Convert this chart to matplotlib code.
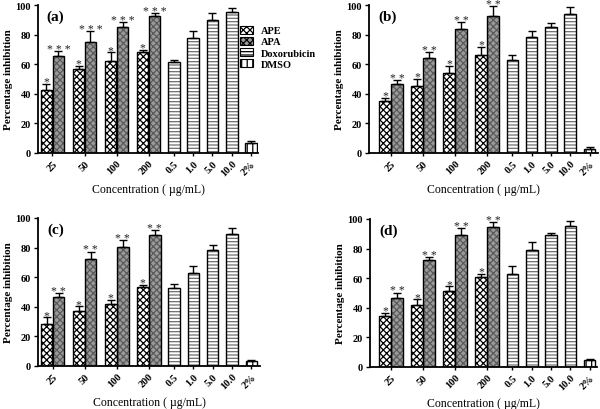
import numpy as np
import matplotlib
matplotlib.use("Agg")
import matplotlib.pyplot as plt

# Category labels along the x axis
group_labels = ['25', '50', '100', '200']
dox_labels = ['0.5', '1.0', '5.0', '10.0']
dmso_label = '2%'
series_names = ['APE', 'APA', 'Doxorubicin', 'DMSO']

# Panel (a)
a_ape = [42.6, 56.8, 62.4, 68.5]
a_ape_err = [4.0, 2.2, 5.6, 1.4]
a_apa = [65.8, 74.8, 84.9, 92.3]
a_apa_err = [3.0, 7.4, 3.4, 2.0]
a_dox = [61.3, 77.7, 90.1, 95.0]
a_dox_err = [1.8, 4.7, 4.3, 2.7]
a_dmso = [6.8]
a_dmso_err = [1.5]

# Panel (b)
b_ape = [34.9, 45.3, 54.0, 66.4]
b_ape_err = [2.5, 4.7, 5.0, 5.4]
b_apa = [46.4, 64.4, 83.8, 92.8]
b_apa_err = [2.9, 3.6, 4.5, 6.3]
b_dox = [62.8, 78.6, 85.1, 93.9]
b_dox_err = [3.6, 3.8, 2.7, 4.5]
b_dmso = [2.9]
b_dmso_err = [0.9]

# Panel (c)
c_ape = [28.5, 37.1, 41.6, 53.7]
c_ape_err = [4.5, 3.3, 3.3, 1.1]
c_apa = [46.3, 72.4, 80.2, 88.5]
c_apa_err = [2.9, 4.9, 5.0, 3.4]
c_dox = [52.8, 62.9, 78.2, 89.4]
c_dox_err = [2.5, 4.5, 3.6, 3.6]
c_dmso = [3.4]
c_dmso_err = [0.9]

# Panel (d)
d_ape = [34.2, 42.2, 51.2, 61.1]
d_ape_err = [2.4, 3.6, 3.2, 1.8]
d_apa = [46.5, 72.6, 89.2, 94.6]
d_apa_err = [3.8, 1.6, 4.5, 3.2]
d_dox = [62.9, 79.1, 89.0, 95.1]
d_dox_err = [5.2, 5.6, 1.3, 3.6]
d_dmso = [4.9]
d_dmso_err = [0.7]

# Significance marks
a_stars = ('*', '* * *')
b_stars = ('*', '* *')
c_stars = ('*', '* *')
d_stars = ('*', '* *')

SERIF = ['Liberation Serif', 'DejaVu Serif']
plt.rcParams['font.family'] = SERIF
plt.rcParams['hatch.linewidth'] = 0.9

bar_w = 0.6
ape_x = np.arange(4) * 1.66
apa_x = ape_x + 0.62
grp_x = ape_x + 0.31
dox_x = 6.6 + np.arange(4)
dmso_x = np.array([10.6])


def hatched_bars(ax, x, y, face, hatch, hcolor, label=None):
    # hatch layer, then a black outline on top
    ax.bar(x, y, width=bar_w, color=face, edgecolor=hcolor, hatch=hatch,
           linewidth=0, zorder=2)
    ax.bar(x, y, width=bar_w, facecolor='none', edgecolor='black',
           linewidth=1.0, zorder=3)
    # proxy for the legend
    return plt.Rectangle((0, 0), 1, 1, facecolor=face, edgecolor='black',
                         hatch=hatch, linewidth=0.8, label=label)


def up_errors(ax, x, y, err):
    ax.errorbar(x, y, yerr=[np.zeros(len(err)), err], fmt='none',
                ecolor='black', elinewidth=1.0, capsize=3, capthick=1.0,
                zorder=4)


def draw_panel(ax, tag, ape, ape_e, apa, apa_e, dox, dox_e, dmso, dmso_e,
               stars, xlim, legend=False):
    h1 = hatched_bars(ax, ape_x, ape, 'white', 'xxxxx', 'black', series_names[0])
    h2 = hatched_bars(ax, apa_x, apa, '#9a9a9a', 'xxxxx', '#5a5a5a', series_names[1])
    h3 = hatched_bars(ax, dox_x, dox, 'white', '-----', '#6e6e6e', series_names[2])
    h4 = hatched_bars(ax, dmso_x, dmso, 'white', '|||', 'black', series_names[3])

    up_errors(ax, ape_x, ape, ape_e)
    up_errors(ax, apa_x, apa, apa_e)
    up_errors(ax, dox_x, dox, dox_e)
    up_errors(ax, dmso_x, dmso, dmso_e)

    # stars over the extract bars
    for xs, ys, es, s in [(ape_x, ape, ape_e, stars[0]), (apa_x, apa, apa_e, stars[1])]:
        for xi, yi, ei in zip(xs, ys, es):
            ax.text(xi, yi + ei - 2.5, s, ha='center', va='bottom',
                    fontsize=8.5, color='#222222', clip_on=False)

    ax.set_xlim(*xlim)
    ax.set_ylim(0, 100)
    ax.set_yticks([0, 20, 40, 60, 80, 100])
    ax.set_xticks(list(grp_x) + list(dox_x) + list(dmso_x))
    ax.set_xticklabels(group_labels + dox_labels + [dmso_label], rotation=45,
                       ha='right', rotation_mode='anchor')
    for lab in ax.get_xticklabels() + ax.get_yticklabels():
        lab.set_fontweight('bold')
        lab.set_fontsize(7.5)
    ax.tick_params(axis='both', direction='out', length=3, width=1.0, pad=2)
    ax.tick_params(axis='x', length=2)
    for side in ['top', 'right']:
        ax.spines[side].set_visible(False)
    for side in ['left', 'bottom']:
        ax.spines[side].set_linewidth(1.3)

    ax.set_ylabel('Percentage inhibition', fontsize=8, fontweight='bold',
                  labelpad=2)
    ax.set_xlabel('Concentration ( \u00b5g/mL)', fontsize=8.5, labelpad=4)
    ax.text(0.04, 0.97, tag, transform=ax.transAxes, fontsize=11,
            fontweight='bold', ha='left', va='top')

    if legend:
        leg = ax.legend(handles=[h1, h2, h3, h4], loc='upper left',
                        bbox_to_anchor=(0.92, 0.86), frameon=False,
                        fontsize=7.5, handlelength=1.2, handleheight=0.8,
                        labelspacing=0.15, handletextpad=0.8, borderpad=0,
                        borderaxespad=0)
        for t in leg.get_texts():
            t.set_fontweight('bold')


fig = plt.figure(figsize=(6.0, 4.1), dpi=100)
W, H = 600.0, 410.0

# axes boxes in pixels: left, right, top (y=100), bottom (y=0)
boxes = [(38, 258, 6, 154), (369, 598, 6, 154),
         (38, 260, 219, 367), (370, 597, 220, 368)]
xlims = [(-0.44, 10.96), (-0.83, 11.04), (-0.45, 11.05), (-0.78, 10.98)]
panels = [
    ('(a)', a_ape, a_ape_err, a_apa, a_apa_err, a_dox, a_dox_err, a_dmso, a_dmso_err, a_stars),
    ('(b)', b_ape, b_ape_err, b_apa, b_apa_err, b_dox, b_dox_err, b_dmso, b_dmso_err, b_stars),
    ('(c)', c_ape, c_ape_err, c_apa, c_apa_err, c_dox, c_dox_err, c_dmso, c_dmso_err, c_stars),
    ('(d)', d_ape, d_ape_err, d_apa, d_apa_err, d_dox, d_dox_err, d_dmso, d_dmso_err, d_stars),
]

for i, (box, xl, p) in enumerate(zip(boxes, xlims, panels)):
    l, r, t, b = box
    ax = fig.add_axes([l / W, 1 - b / H, (r - l) / W, (b - t) / H])
    draw_panel(ax, *p, xlim=xl, legend=(i == 0))

fig.savefig('out.png', dpi=100)
